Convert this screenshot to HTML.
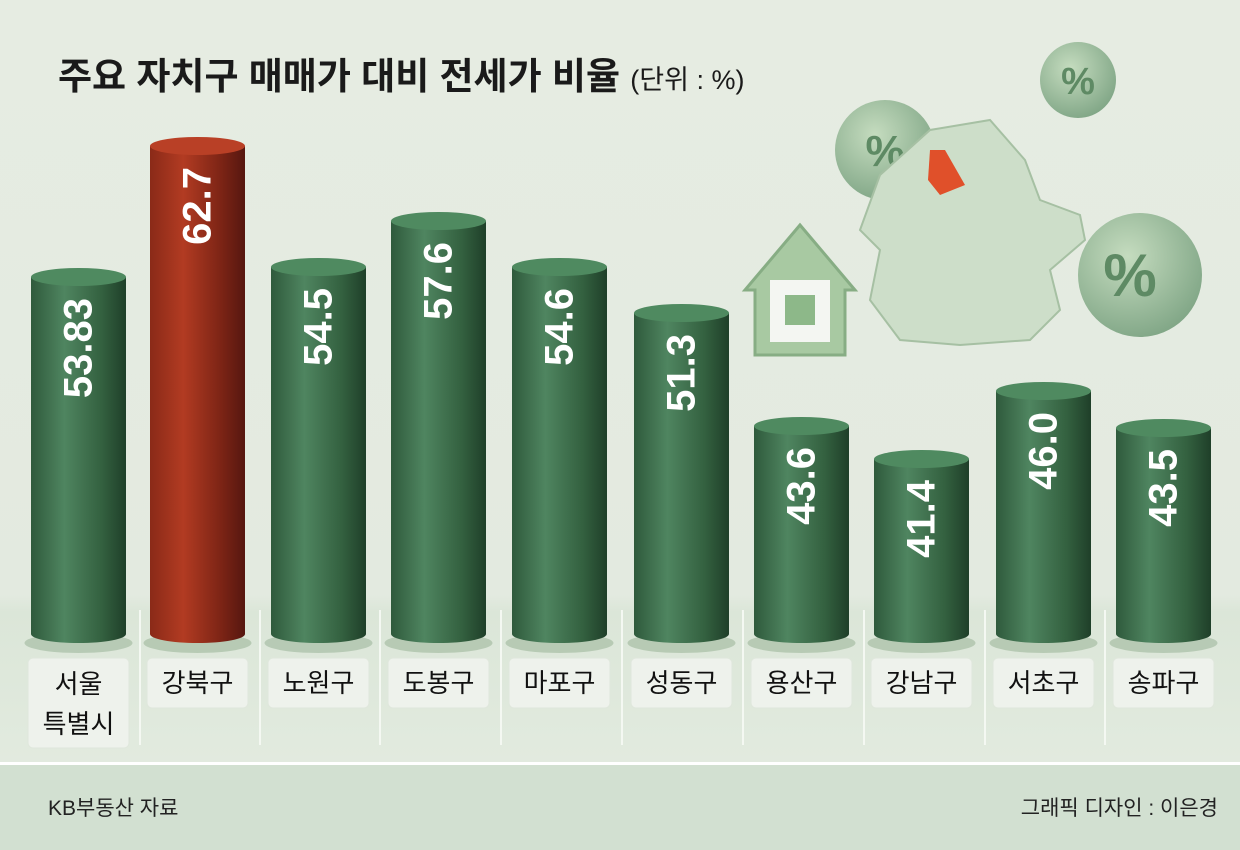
<!DOCTYPE html>
<html><head><meta charset="utf-8"><style>
body{margin:0;width:1240px;height:850px;overflow:hidden;font-family:"Liberation Sans","Noto Sans CJK KR",sans-serif}
</style></head><body>
<svg width="1240" height="850" xmlns="http://www.w3.org/2000/svg" style="display:block;font-family:'Liberation Sans','Noto Sans CJK KR',sans-serif">
<defs>
<linearGradient id="bg" x1="0" y1="0" x2="0" y2="1"><stop offset="0" stop-color="#e6ece2"/><stop offset="0.7" stop-color="#e3eae0"/><stop offset="0.72" stop-color="#dbe6d8"/><stop offset="1" stop-color="#e6ede3"/></linearGradient>
<linearGradient id="g" x1="0" x2="1"><stop offset="0" stop-color="#2f5a3c"/><stop offset="0.35" stop-color="#4f8560"/><stop offset="0.75" stop-color="#33603f"/><stop offset="1" stop-color="#1f3f29"/></linearGradient>
<linearGradient id="r" x1="0" x2="1"><stop offset="0" stop-color="#8a2a18"/><stop offset="0.35" stop-color="#b23b22"/><stop offset="0.75" stop-color="#7c2415"/><stop offset="1" stop-color="#561710"/></linearGradient>
<radialGradient id="coin" cx="0.4" cy="0.35" r="0.7"><stop offset="0" stop-color="#c5dcbf"/><stop offset="1" stop-color="#7fa585"/></radialGradient>
</defs>
<rect width="1240" height="850" fill="url(#bg)"/>
<text x="58" y="89" font-size="37" font-weight="bold" fill="#1a1a1a">주요 자치구 매매가 대비 전세가 비율 <tspan font-size="27" font-weight="normal">(단위 : %)</tspan></text>
<circle cx="1078" cy="80" r="38" fill="url(#coin)"/><text x="1078" y="94" font-size="38" text-anchor="middle" fill="#5e8a64" font-weight="bold">%</text>
<circle cx="885" cy="150" r="50" fill="url(#coin)"/><text x="885" y="166" font-size="44" text-anchor="middle" fill="#5e8a64" font-weight="bold">%</text>
<circle cx="1140" cy="275" r="62" fill="url(#coin)"/><text x="1130" y="296" font-size="60" text-anchor="middle" fill="#5e8a64" font-weight="bold">%</text>
<path d="M880 175 L930 130 L990 120 L1025 160 L1040 200 L1080 215 L1085 240 L1050 270 L1060 310 L1030 340 L960 345 L900 340 L870 300 L880 250 L860 230 Z" fill="#cddec9" stroke="#a6c0a3" stroke-width="2"/>
<path d="M930 150 L945 150 L965 185 L940 195 L928 180 Z" fill="#e0502a"/>
<path d="M745 290 L800 225 L855 290 L845 290 L845 355 L755 355 L755 290 Z" fill="#a8c9a2" stroke="#87ad84" stroke-width="3"/>
<rect x="770" y="280" width="60" height="62" fill="#f4f6f2"/>
<rect x="785" y="295" width="30" height="30" fill="#8db889"/>
<rect x="0" y="762" width="1240" height="3" fill="#fff"/>
<rect x="0" y="765" width="1240" height="85" fill="#d2e0d1"/>
<text x="48" y="815" font-size="21" fill="#222">KB부동산 자료</text>
<text x="1218" y="815" font-size="21" fill="#222" text-anchor="end">그래픽 디자인 : 이은경</text>
<g stroke="#f4f8f2" stroke-width="2">
<line x1="140" y1="610" x2="140" y2="745"/><line x1="260" y1="610" x2="260" y2="745"/><line x1="380" y1="610" x2="380" y2="745"/><line x1="501" y1="610" x2="501" y2="745"/><line x1="622" y1="610" x2="622" y2="745"/><line x1="743" y1="610" x2="743" y2="745"/><line x1="864" y1="610" x2="864" y2="745"/><line x1="985" y1="610" x2="985" y2="745"/><line x1="1105" y1="610" x2="1105" y2="745"/>
</g>

<g fill="#9fb89c" opacity="0.6">
<ellipse cx="78.5" cy="643" rx="54" ry="10"/><ellipse cx="197.5" cy="643" rx="54" ry="10"/><ellipse cx="318.5" cy="643" rx="54" ry="10"/><ellipse cx="438.5" cy="643" rx="54" ry="10"/><ellipse cx="559.5" cy="643" rx="54" ry="10"/><ellipse cx="681.5" cy="643" rx="54" ry="10"/><ellipse cx="801.5" cy="643" rx="54" ry="10"/><ellipse cx="921.5" cy="643" rx="54" ry="10"/><ellipse cx="1043.5" cy="643" rx="54" ry="10"/><ellipse cx="1163.5" cy="643" rx="54" ry="10"/>
</g>

<g font-size="40" font-weight="bold" fill="#fff">
<path d="M31 277 L31 634 A47.5 9 0 0 0 126 634 L126 277 Z" fill="url(#g)"/><ellipse cx="78.5" cy="277" rx="47.5" ry="9" fill="#4f8a60"/>
<text transform="translate(78.5,298) rotate(-90)" text-anchor="end" dominant-baseline="central">53.83</text>

<path d="M150 146 L150 634 A47.5 9 0 0 0 245 634 L245 146 Z" fill="url(#r)"/><ellipse cx="197.5" cy="146" rx="47.5" ry="9" fill="#b94026"/>
<text transform="translate(197.5,167) rotate(-90)" text-anchor="end" dominant-baseline="central">62.7</text>

<path d="M271 267 L271 634 A47.5 9 0 0 0 366 634 L366 267 Z" fill="url(#g)"/><ellipse cx="318.5" cy="267" rx="47.5" ry="9" fill="#4f8a60"/>
<text transform="translate(318.5,288) rotate(-90)" text-anchor="end" dominant-baseline="central">54.5</text>

<path d="M391 221 L391 634 A47.5 9 0 0 0 486 634 L486 221 Z" fill="url(#g)"/><ellipse cx="438.5" cy="221" rx="47.5" ry="9" fill="#4f8a60"/>
<text transform="translate(438.5,242) rotate(-90)" text-anchor="end" dominant-baseline="central">57.6</text>

<path d="M512 267 L512 634 A47.5 9 0 0 0 607 634 L607 267 Z" fill="url(#g)"/><ellipse cx="559.5" cy="267" rx="47.5" ry="9" fill="#4f8a60"/>
<text transform="translate(559.5,288) rotate(-90)" text-anchor="end" dominant-baseline="central">54.6</text>

<path d="M634 313 L634 634 A47.5 9 0 0 0 729 634 L729 313 Z" fill="url(#g)"/><ellipse cx="681.5" cy="313" rx="47.5" ry="9" fill="#4f8a60"/>
<text transform="translate(681.5,334) rotate(-90)" text-anchor="end" dominant-baseline="central">51.3</text>

<path d="M754 426 L754 634 A47.5 9 0 0 0 849 634 L849 426 Z" fill="url(#g)"/><ellipse cx="801.5" cy="426" rx="47.5" ry="9" fill="#4f8a60"/>
<text transform="translate(801.5,447) rotate(-90)" text-anchor="end" dominant-baseline="central">43.6</text>

<path d="M874 459 L874 634 A47.5 9 0 0 0 969 634 L969 459 Z" fill="url(#g)"/><ellipse cx="921.5" cy="459" rx="47.5" ry="9" fill="#4f8a60"/>
<text transform="translate(921.5,480) rotate(-90)" text-anchor="end" dominant-baseline="central">41.4</text>

<path d="M996 391 L996 634 A47.5 9 0 0 0 1091 634 L1091 391 Z" fill="url(#g)"/><ellipse cx="1043.5" cy="391" rx="47.5" ry="9" fill="#4f8a60"/>
<text transform="translate(1043.5,412) rotate(-90)" text-anchor="end" dominant-baseline="central">46.0</text>

<path d="M1116 428 L1116 634 A47.5 9 0 0 0 1211 634 L1211 428 Z" fill="url(#g)"/><ellipse cx="1163.5" cy="428" rx="47.5" ry="9" fill="#4f8a60"/>
<text transform="translate(1163.5,449) rotate(-90)" text-anchor="end" dominant-baseline="central">43.5</text>
</g>

<g fill="#eef2ec" stroke="#dfe7dc">
<rect x="28" y="658" width="101" height="90" rx="5"/><rect x="147" y="658" width="101" height="50" rx="5"/><rect x="268" y="658" width="101" height="50" rx="5"/><rect x="388" y="658" width="101" height="50" rx="5"/><rect x="509" y="658" width="101" height="50" rx="5"/><rect x="631" y="658" width="101" height="50" rx="5"/><rect x="751" y="658" width="101" height="50" rx="5"/><rect x="871" y="658" width="101" height="50" rx="5"/><rect x="993" y="658" width="101" height="50" rx="5"/><rect x="1113" y="658" width="101" height="50" rx="5"/>
</g>
<g font-size="26" text-anchor="middle" fill="#111">
<text x="78.5" y="693">서울</text><text x="78.5" y="733">특별시</text>
<text x="197.5" y="692">강북구</text><text x="318.5" y="692">노원구</text><text x="438.5" y="692">도봉구</text><text x="559.5" y="692">마포구</text><text x="681.5" y="692">성동구</text><text x="801.5" y="692">용산구</text><text x="921.5" y="692">강남구</text><text x="1043.5" y="692">서초구</text><text x="1163.5" y="692">송파구</text>
</g>
</svg>
</body></html>
